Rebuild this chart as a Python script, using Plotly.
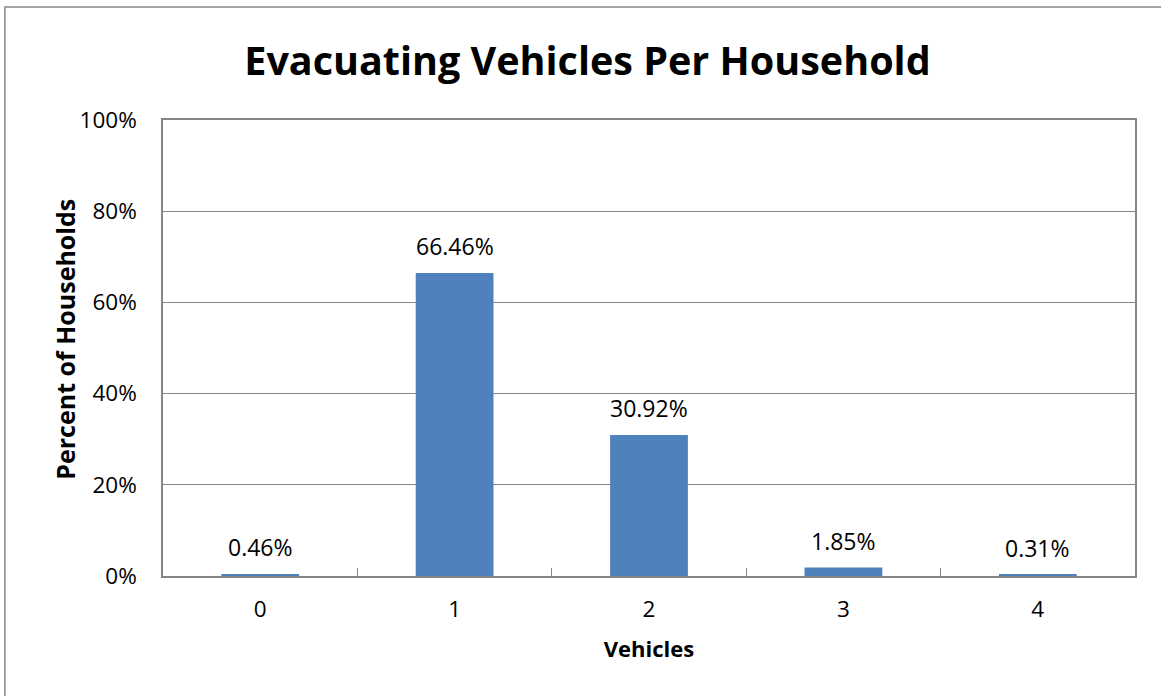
import plotly.graph_objects as go

categories = ["0", "1", "2", "3", "4"]
values = [0.0046, 0.6646, 0.3092, 0.0185, 0.0031]
labels = ["0.46%", "66.46%", "30.92%", "1.85%", "0.31%"]
y_ticks = [0, 0.2, 0.4, 0.6, 0.8, 1.0]
y_tick_labels = ["0%", "20%", "40%", "60%", "80%", "100%"]

FONT = "Open Sans, Calibri, Carlito, sans-serif"
GRAY = "#868686"

fig = go.Figure()
fig.add_trace(go.Bar(x=categories, y=values, marker=dict(color="#4F81BD", line=dict(width=0)),
                     width=0.4, hoverinfo="skip"))

for c, v, t in zip(categories, values, labels):
    fig.add_annotation(x=c, y=v, text=t, showarrow=False, yanchor="bottom",
                       yshift=9, font=dict(family=FONT, size=23, color="#000"))

# y-axis title as a rotated annotation
fig.add_annotation(xref="paper", yref="paper", x=-0.101, y=0.52, xanchor="center", yanchor="middle",
                   text="<b>Percent of Households</b>", textangle=-90, showarrow=False,
                   font=dict(family=FONT, size=25, color="#000"))

fig.update_layout(
    width=1161, height=696,
    margin=dict(l=163, r=26, t=120, b=120),
    paper_bgcolor="white", plot_bgcolor="white",
    showlegend=False,
    title=dict(text="<b>Evacuating Vehicles Per Household</b>", x=0.506, xanchor="center",
               y=0.912, yanchor="middle", font=dict(family=FONT, size=39.5, color="#000")),
    font=dict(family=FONT, color="#000"),
)
fig.update_xaxes(
    type="category", showline=True, linecolor=GRAY, linewidth=1.5, mirror=True,
    ticks="inside", tickson="boundaries", ticklen=8, tickcolor=GRAY, tickwidth=1,
    tickfont=dict(family=FONT, size=22.5, color="#000"), ticklabelstandoff=12,
    title=dict(text="<b>Vehicles</b>", font=dict(family=FONT, size=22, color="#000"), standoff=19),
    showgrid=False,
)
fig.update_yaxes(
    range=[0, 1], tickvals=y_ticks, ticktext=y_tick_labels,
    showline=True, linecolor=GRAY, linewidth=1.5, mirror=True,
    showgrid=True, gridcolor=GRAY, gridwidth=1, zeroline=False,
    ticks="", tickfont=dict(family=FONT, size=22.5, color="#000"), ticklabelstandoff=20,
)
fig.add_shape(type="rect", xref="paper", yref="paper", x0=-0.1626, y0=-0.5, x1=1.2, y1=1.2478,
              line=dict(color=GRAY, width=1.5), fillcolor="rgba(0,0,0,0)", layer="above")

fig.write_html("out.html")
